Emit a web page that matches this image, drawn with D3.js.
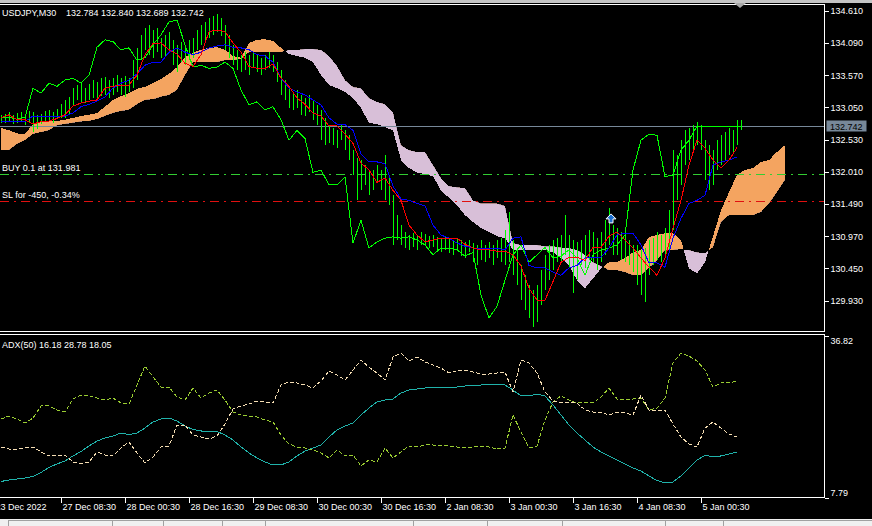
<!DOCTYPE html>
<html><head><meta charset="utf-8">
<script src="https://cdn.jsdelivr.net/npm/d3@7"></script>
<style>
html,body{margin:0;padding:0;background:#000;}
svg{display:block;}
text{font-family:"Liberation Sans",Arial,sans-serif;font-size:9px;fill:#fff;}
</style></head><body>
<svg id="c" width="872" height="526"></svg>
<script>
// ---------------- DATA ----------------
const symbolTitle = "USDJPY,M30";
const ohlcLast = ["132.784", "132.840", "132.689", "132.742"];
const adxTitle = "ADX(50) 16.18 28.78 18.05";
const timeLabels = ["23 Dec 2022","27 Dec 08:30","28 Dec 00:30","28 Dec 16:30","29 Dec 08:30","30 Dec 00:30","30 Dec 16:30","2 Jan 08:30","3 Jan 00:30","3 Jan 16:30","4 Jan 08:30","5 Jan 00:30"];
const timeTickBars = [0,32,64,96,128,160,192,224,256,288,320,352];
const priceTicks = [134.610,134.090,133.570,133.050,132.530,132.010,131.490,130.970,130.450,129.930];
const adxTicks = [36.82, 7.79];
const bidPrice = 132.742;
const buyPrice = 131.981, buyLabel = "BUY 0.1 at 131.981";
const slPrice = 131.531, slLabel = "SL for -450, -0.34%";
const buyArrow = {bar: 307, price: 131.25};
const lastHighLine = {from: 350, to: 372, price: 132.75};

// bars: sampled every 2 bars starting at bar 2
const barStart = 2, barStep = 2;
const barHigh = [132.93,132.95,132.97,132.92,132.96,132.98,132.94,132.99,132.97,132.93,132.95,132.99,133.01,132.97,133.03,133.10,
133.17,133.22,133.36,133.41,133.46,133.36,133.43,133.49,133.46,133.52,133.54,133.49,133.52,133.57,133.52,133.56,133.52,
133.81,134.01,134.22,134.33,134.38,134.30,134.33,134.17,134.22,134.27,134.14,134.06,134.11,134.06,134.14,134.17,134.30,
134.38,134.43,134.49,134.52,134.56,134.49,134.38,134.22,134.06,133.98,133.90,133.94,133.90,133.94,133.90,133.85,133.90,
133.94,133.90,133.78,133.65,133.49,133.36,133.30,133.33,133.25,133.20,133.25,133.17,133.09,133.01,132.88,132.77,132.72,
132.68,132.77,132.68,132.60,132.36,132.23,132.20,132.12,132.00,132.04,132.12,132.04,132.28,131.96,131.63,131.31,131.15,
131.04,130.99,131.02,130.99,131.04,131.00,130.97,130.99,130.96,130.94,130.97,130.94,130.91,130.94,130.91,130.88,130.91,
130.86,130.83,130.91,130.83,130.88,130.83,130.91,130.94,131.07,131.36,130.91,130.75,130.50,130.34,130.18,130.10,130.18,
130.42,130.67,130.83,130.91,130.94,130.99,131.31,130.99,130.91,130.88,130.91,130.99,131.07,131.04,130.94,131.04,131.23,
131.42,131.15,131.10,131.04,130.99,130.91,130.83,130.83,130.75,130.78,130.91,130.94,131.04,130.99,131.10,131.39,132.36,
132.28,132.52,132.68,132.72,132.77,132.81,132.77,132.52,132.44,132.36,132.52,132.60,132.65,132.72,132.68,132.85,132.84];
const barLow = [132.79,132.80,132.82,132.78,132.80,132.83,132.76,132.80,132.66,132.70,132.78,132.82,132.84,132.80,132.86,132.88,
132.88,132.93,133.09,133.17,133.14,133.12,133.17,133.20,133.17,133.23,133.25,133.20,133.25,133.30,133.25,133.22,133.30,
133.36,133.49,133.81,133.98,133.90,133.85,133.94,133.85,133.88,133.98,133.73,133.62,133.78,133.73,133.81,133.85,133.98,
134.06,134.09,134.17,134.22,134.27,134.20,133.98,133.85,133.73,133.65,133.62,133.65,133.57,133.68,133.62,133.57,133.65,
133.68,133.62,133.46,133.25,133.17,133.04,133.01,133.04,132.93,132.91,132.97,132.85,132.77,132.52,132.44,132.47,132.44,
132.39,132.52,132.36,132.20,131.96,131.55,131.71,131.80,131.63,131.71,131.84,131.71,131.55,131.47,130.83,130.91,130.83,
130.78,130.75,130.79,130.75,130.83,130.81,130.78,130.79,130.75,130.71,130.75,130.70,130.67,130.75,130.65,130.62,130.71,
130.55,130.50,130.58,130.55,130.62,130.50,130.62,130.55,130.50,130.55,130.34,130.18,129.94,129.78,129.65,129.50,129.58,
129.86,130.10,130.26,130.42,130.55,130.55,130.67,130.45,130.05,130.26,130.50,130.45,130.58,130.55,130.42,130.55,130.67,
130.83,130.67,130.67,130.58,130.55,130.50,130.39,130.18,130.02,129.91,130.34,130.50,130.58,130.55,130.67,130.75,131.07,
131.55,131.80,132.12,132.20,132.36,132.44,132.36,131.88,131.71,131.80,132.04,132.12,132.20,132.28,132.33,132.44,132.69];

// indicator lines: sampled every 4 bars starting at bar 2
const lineStart = 2, lineStep = 4;
const tenkan = [132.88,132.93,132.85,132.85,132.78,132.82,132.83,132.87,132.93,133.07,133.12,133.15,133.17,133.36,133.39,133.41,
133.41,133.57,133.90,134.08,134.09,133.98,133.91,133.76,133.71,133.90,134.27,134.30,134.27,134.09,133.94,133.71,133.68,
133.68,133.75,133.52,133.39,133.20,133.10,132.96,132.91,132.75,132.75,132.62,132.47,132.15,132.04,131.84,131.91,131.71,
131.55,131.15,130.99,130.88,130.91,130.94,130.94,130.94,130.84,130.78,130.75,130.75,130.73,130.73,130.67,130.49,130.13,
129.94,129.94,130.24,130.55,130.63,130.63,130.58,130.79,130.79,130.97,131.04,130.91,130.78,130.62,130.47,130.34,130.62,
131.10,131.55,132.12,132.52,132.39,132.20,132.07,132.20,132.40];
const kijun = [132.82,132.82,132.82,132.82,132.91,132.91,132.91,132.91,132.91,132.96,133.06,133.10,133.15,133.22,133.36,133.44,
133.49,133.59,133.73,133.78,133.78,133.94,134.01,133.94,133.90,133.94,134.01,134.04,134.06,134.02,134.01,133.98,133.90,
133.88,133.78,133.52,133.36,133.30,133.25,133.17,133.09,132.88,132.78,132.77,132.68,132.30,132.17,132.17,132.14,131.78,
131.57,131.55,131.50,131.46,131.15,130.99,130.94,130.86,130.81,130.78,130.78,130.78,130.78,130.75,130.94,130.96,130.50,
130.46,130.46,130.39,130.34,130.46,130.50,130.62,130.63,130.63,130.78,130.99,131.02,131.02,130.83,130.54,130.54,130.47,
130.94,131.26,131.50,131.55,131.63,132.12,132.17,132.20,132.25];
const chikou = [132.88,132.89,132.86,132.89,133.36,133.28,133.44,133.39,133.49,133.52,133.44,133.57,134.02,134.14,134.11,133.98,
134.01,133.81,133.85,134.06,134.22,134.43,134.46,134.06,133.70,133.73,133.68,133.70,133.78,133.68,133.33,133.09,133.14,
133.01,133.06,132.85,132.52,132.68,132.55,132.00,132.04,131.80,131.80,131.93,130.86,131.23,130.78,130.88,130.94,130.96,
130.94,130.96,130.91,130.83,130.67,130.78,130.78,130.75,130.65,130.71,130.02,129.65,129.84,130.26,130.67,130.83,130.55,
130.67,130.79,130.62,130.65,130.75,130.62,130.34,130.67,130.75,130.78,130.83,130.99,132.04,132.52,132.62,132.60,131.93,
131.96,132.36,132.52,132.75];
const senkouA = [132.72,132.68,132.63,132.62,132.78,132.82,132.83,132.83,132.85,132.88,132.91,132.93,132.96,133.06,133.17,133.23,
133.28,133.35,133.38,133.44,133.51,133.59,133.70,133.86,133.93,133.98,134.01,134.02,133.98,133.88,133.85,134.09,134.14,
134.15,134.12,134.01,133.91,133.88,133.85,133.78,133.57,133.41,133.36,133.30,133.20,133.04,132.80,132.78,132.73,132.68,
132.20,132.07,132.00,131.97,131.94,131.71,131.59,131.47,131.31,131.20,131.10,131.04,130.97,130.94,130.75,130.75,130.75,
130.75,130.75,130.71,130.62,130.50,130.26,130.13,130.29,130.45,130.55,130.55,130.62,130.71,130.75,130.96,130.99,131.02,
131.02,130.91,130.45,130.37,130.55,130.97,131.39,131.68,131.96,132.04,132.07,132.17,132.20,132.33,132.44];
const senkouB = [132.36,132.36,132.46,132.52,132.62,132.65,132.68,132.76,132.78,132.80,132.82,132.83,132.86,132.91,132.96,132.99,
133.01,133.10,133.17,133.18,133.22,133.25,133.33,133.57,133.78,133.78,133.78,133.78,133.81,133.81,133.83,133.94,133.94,
133.94,133.94,133.94,133.98,133.98,133.99,133.99,133.98,133.88,133.72,133.49,133.38,133.36,133.20,133.14,133.10,132.97,
132.44,132.36,132.33,132.33,132.12,131.91,131.78,131.76,131.75,131.55,131.50,131.50,131.50,131.46,130.86,130.83,130.83,
130.83,130.81,130.81,130.79,130.78,130.75,130.67,130.55,130.49,130.42,130.42,130.39,130.34,130.34,130.46,130.58,130.75,
130.75,130.76,130.75,130.71,130.70,130.79,131.20,131.31,131.31,131.31,131.31,131.36,131.50,131.68,131.88];
const adxMain = [10.66,10.93,11.11,11.29,11.56,12.27,13.17,13.80,14.33,15.23,16.03,17.02,17.91,18.45,18.81,19.35,19.08,19.35,
20.24,21.32,21.86,22.04,21.50,20.60,19.98,19.71,19.62,19.62,18.99,18.09,16.84,15.77,14.87,14.15,13.62,13.62,14.15,15.23,
16.12,16.66,17.20,18.63,19.89,20.60,21.14,22.57,23.83,24.90,25.26,25.44,26.52,27.05,27.23,27.41,27.59,27.59,27.59,27.59,
27.77,27.86,27.95,27.95,27.95,27.95,27.05,25.98,25.98,26.34,25.98,24.37,22.57,20.78,19.35,18.09,16.84,15.95,15.23,14.51,
13.80,13.08,12.54,11.64,10.84,10.39,10.57,11.64,13.08,14.51,15.32,15.14,15.23,15.59,15.95];
const plusDI = [21.86,22.39,21.86,21.14,22.04,24.19,24.19,23.47,23.11,25.44,26.16,25.98,25.62,25.26,25.62,24.72,24.54,27.95,
31.35,29.38,27.59,27.59,25.80,25.26,27.41,25.62,26.52,27.05,25.26,23.11,22.57,22.39,22.21,21.68,21.32,18.99,17.38,16.84,
16.66,16.30,15.77,14.87,16.30,15.23,15.41,13.44,14.51,14.15,16.66,14.87,15.95,17.02,16.84,17.20,17.20,17.02,17.02,16.84,
16.66,16.84,16.84,16.84,16.48,16.66,22.57,19.53,16.66,17.02,21.68,24.90,25.98,25.26,24.72,24.90,24.72,25.80,27.41,25.44,
25.26,25.44,25.62,23.47,23.83,25.62,31.89,33.68,33.15,32.25,30.64,27.59,28.31,28.31,28.67];
const minusDI = [16.84,16.48,16.48,16.66,16.84,15.95,15.23,15.23,15.41,14.15,13.80,14.15,15.95,15.41,15.23,16.66,17.74,15.77,
13.98,15.05,16.84,17.02,20.78,20.78,18.99,18.63,18.27,18.81,20.96,23.65,24.19,24.54,25.08,24.90,24.72,27.95,28.49,28.31,
27.95,27.41,28.67,30.46,29.74,28.85,30.64,32.43,31.17,30.10,28.85,32.97,33.68,32.25,32.97,32.07,31.53,30.99,30.10,30.46,
30.64,30.28,29.92,29.92,30.10,30.28,26.70,32.43,31.89,30.10,26.70,25.08,24.72,24.90,24.72,23.47,23.11,23.11,22.57,23.11,
22.93,22.57,26.16,23.47,23.29,23.47,20.96,18.63,17.38,16.84,20.24,21.32,20.24,19.17,18.63];

// ---------------- DRAWING ----------------
const W = 872, H = 526;
const plotR = 824, mainT = 4.5, mainB = 331.5, subT = 334.5, subB = 497.5;
const svg = d3.select("#c");
svg.append("rect").attr("width", W).attr("height", H).attr("fill", "#000");
svg.append("rect").attr("x", 0).attr("y", 0).attr("width", W).attr("height", 3).attr("fill", "#c4c4c4");

const x = d3.scaleLinear().domain([0, 416]).range([-3, 829]);
const y = d3.scaleLinear().domain([129.93, 134.61]).range([300.7, 10.7]);
const ya = d3.scaleLinear().domain([7.79, 36.82]).range([subB, subT + 1]);

const defs = svg.append("defs");
defs.append("clipPath").attr("id", "clipMain").append("rect")
  .attr("x", 0).attr("y", mainT + 0.5).attr("width", plotR).attr("height", mainB - mainT - 1);
defs.append("clipPath").attr("id", "clipSub").append("rect")
  .attr("x", 0).attr("y", subT + 0.5).attr("width", plotR).attr("height", subB - subT - 1);

const main = svg.append("g").attr("clip-path", "url(#clipMain)");
const sub = svg.append("g").attr("clip-path", "url(#clipSub)");

// Ichimoku cloud
const cloud = senkouA.map((a, j) => ({i: lineStart + lineStep * j, a: a, b: senkouB[j]}));
const clipAbove = d3.area().x(d => x(d.i)).y0(-10).y1(d => y(d.b));
const clipBelow = d3.area().x(d => x(d.i)).y0(d => y(d.b)).y1(H + 10);
defs.append("clipPath").attr("id", "aboveB").append("path").attr("d", clipAbove(cloud));
defs.append("clipPath").attr("id", "belowB").append("path").attr("d", clipBelow(cloud));
const areaAB = d3.area().x(d => x(d.i)).y0(d => y(d.a)).y1(d => y(d.b));
main.append("g").attr("clip-path", "url(#aboveB)").append("path")
  .attr("d", areaAB(cloud)).attr("fill", "#f4a460").attr("shape-rendering", "crispEdges");
main.append("g").attr("clip-path", "url(#belowB)").append("path")
  .attr("d", areaAB(cloud)).attr("fill", "#d8bfd8").attr("shape-rendering", "crispEdges");

// horizontal order lines
main.append("line").attr("x1", 0).attr("x2", plotR).attr("y1", Math.round(y(bidPrice)) + 0.5).attr("y2", Math.round(y(bidPrice)) + 0.5)
  .attr("stroke", "#778899").attr("shape-rendering", "crispEdges");
main.append("line").attr("x1", 0).attr("x2", plotR).attr("y1", Math.round(y(buyPrice)) + 0.5).attr("y2", Math.round(y(buyPrice)) + 0.5)
  .attr("stroke", "#32cd32").attr("stroke-dasharray", "9,5,2,5").attr("shape-rendering", "crispEdges");
main.append("line").attr("x1", 0).attr("x2", plotR).attr("y1", Math.round(y(slPrice)) + 0.5).attr("y2", Math.round(y(slPrice)) + 0.5)
  .attr("stroke", "#e01010").attr("stroke-dasharray", "9,5,2,5").attr("shape-rendering", "crispEdges");

// price bars
const bars = barHigh.map((h, k) => ({i: barStart + barStep * k, h: h, l: barLow[k]}));
main.append("g").attr("stroke", "#00ff00").attr("shape-rendering", "crispEdges")
  .selectAll("line").data(bars).join("line")
  .attr("x1", d => Math.round(x(d.i)) + 0.5).attr("x2", d => Math.round(x(d.i)) + 0.5)
  .attr("y1", d => y(d.h)).attr("y2", d => y(d.l));

// ichimoku lines
function drawLine(g, data, scale, color, dash) {
  const ln = d3.line().x((d, j) => x(lineStart + lineStep * j)).y(d => scale(d));
  const p = g.append("path").attr("d", ln(data)).attr("fill", "none").attr("stroke", color)
    .attr("stroke-width", 1).attr("shape-rendering", "crispEdges");
  if (dash) p.attr("stroke-dasharray", dash);
}
drawLine(main, chikou, y, "#00ff00");
drawLine(main, kijun, y, "#0000ff");
drawLine(main, tenkan, y, "#ff0000");

// last high line
main.append("line").attr("x1", x(lastHighLine.from)).attr("x2", x(lastHighLine.to))
  .attr("y1", Math.round(y(lastHighLine.price)) + 0.5).attr("y2", Math.round(y(lastHighLine.price)) + 0.5)
  .attr("stroke", "#00ff00").attr("shape-rendering", "crispEdges");

// buy arrow
const ax0 = x(buyArrow.bar), ay0 = y(buyArrow.price);
main.append("path")
  .attr("d", `M${ax0},${ay0 - 5} L${ax0 + 5},${ay0} L${ax0 + 2},${ay0} L${ax0 + 2},${ay0 + 4} L${ax0 - 2},${ay0 + 4} L${ax0 - 2},${ay0} L${ax0 - 5},${ay0} Z`)
  .attr("fill", "#1e6fd0").attr("stroke", "#ffffff").attr("stroke-width", 1);

// order labels
main.append("text").attr("x", 2).attr("y", y(buyPrice) - 3).text(buyLabel);
main.append("text").attr("x", 2).attr("y", y(slPrice) - 3).text(slLabel);

// ADX lines
drawLine(sub, adxMain, ya, "#20b2aa");
drawLine(sub, plusDI, ya, "#9acd32", "4,2");
drawLine(sub, minusDI, ya, "#f5deb3", "4,2");

// frames
const fr = svg.append("g").attr("stroke", "#fff").attr("shape-rendering", "crispEdges");
fr.append("line").attr("x1", 0).attr("x2", plotR + 0.5).attr("y1", mainT).attr("y2", mainT);
fr.append("line").attr("x1", 0).attr("x2", plotR + 0.5).attr("y1", mainB).attr("y2", mainB);
fr.append("line").attr("x1", plotR + 0.5).attr("x2", plotR + 0.5).attr("y1", mainT).attr("y2", mainB);
fr.append("line").attr("x1", 0).attr("x2", plotR + 0.5).attr("y1", subT).attr("y2", subT);
fr.append("line").attr("x1", 0).attr("x2", plotR + 0.5).attr("y1", subB).attr("y2", subB);
fr.append("line").attr("x1", plotR + 0.5).attr("x2", plotR + 0.5).attr("y1", subT).attr("y2", subB);

// shift marker
svg.append("path").attr("d", "M734,3 L746,3 L740,8 Z").attr("fill", "#a8a8a8");

// titles
svg.append("text").attr("x", 2).attr("y", 15.5).text(symbolTitle);
svg.append("text").attr("x", 66).attr("y", 15.5).text(ohlcLast.join(" "));
svg.append("text").attr("x", 2).attr("y", 348).text(adxTitle);

// price axis
function styleAxis(g) {
  g.attr("font-size", null).attr("font-family", null);
  g.select(".domain").remove();
  g.selectAll("line").attr("stroke", "#fff").attr("shape-rendering", "crispEdges");
  g.selectAll("text").attr("fill", "#fff");
}
svg.append("g").attr("transform", `translate(${plotR + 0.5},0)`)
  .call(d3.axisRight(y).tickValues(priceTicks).tickFormat(d3.format(".3f")).tickSize(4).tickPadding(2))
  .call(styleAxis);

// ADX axis
const adxAxisG = svg.append("g").attr("transform", `translate(${plotR + 0.5},0)`)
  .call(d3.axisRight(ya).tickValues(adxTicks).tickFormat(d3.format(".2f")).tickSize(4).tickPadding(2))
  .call(styleAxis);
adxAxisG.selectAll("text").attr("dy", (d, i) => i === 0 ? "0.85em" : "-0.2em");

// time axis
const tAxis = svg.append("g").attr("transform", `translate(0,${subB})`)
  .call(d3.axisBottom(x).tickValues(timeTickBars).tickFormat((d, i) => timeLabels[i]).tickSize(5).tickPadding(1))
  .call(styleAxis);
tAxis.selectAll("text").attr("text-anchor", "start").attr("x", (d, i) => i === 0 ? -2 : 1);

// current price tag
const by = y(bidPrice);
svg.append("rect").attr("x", 826.5).attr("y", Math.round(by) - 5.5).attr("width", 40).attr("height", 11).attr("fill", "#778899");
svg.append("text").attr("x", 830).attr("y", by + 3.5).attr("fill", "#000").style("fill", "#000").text(bidPrice.toFixed(3));

// bottom status strip
svg.append("rect").attr("x", 0).attr("y", 519).attr("width", W).attr("height", 7).attr("fill", "#f0f0f0");
const st = svg.append("g").attr("stroke", "#a0a0a0").attr("shape-rendering", "crispEdges");
st.append("line").attr("x1", 8).attr("x2", W).attr("y1", 520.5).attr("y2", 520.5);
[8, 112, 163, 222, 265, 413, 487, 562, 665, 723].forEach(sx => {
  st.append("line").attr("x1", sx + 0.5).attr("x2", sx + 0.5).attr("y1", 520).attr("y2", 526);
});
</script></body></html>
